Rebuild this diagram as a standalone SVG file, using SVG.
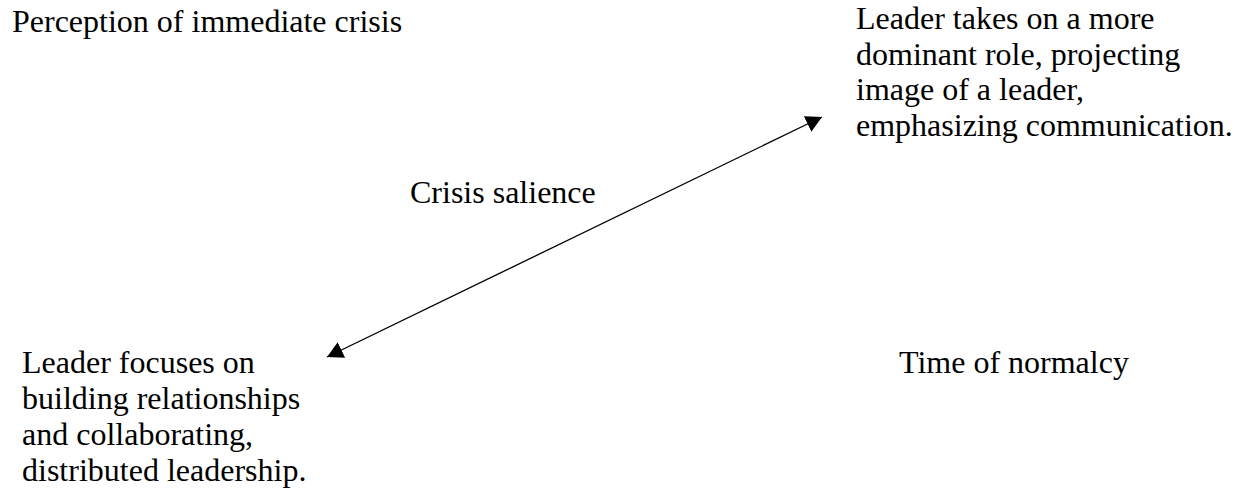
<svg xmlns="http://www.w3.org/2000/svg" width="1236" height="490" viewBox="0 0 1236 490">
<style>
text{font-family:"Liberation Serif","Times New Roman",serif;font-size:32px;fill:#000}
.conn{stroke:#000;stroke-width:1.3;fill:none}
</style>
<defs>
<marker id="tri" viewBox="0 0 16 17" refX="16" refY="8.5" markerWidth="16" markerHeight="17" markerUnits="userSpaceOnUse" orient="auto-start-reverse">
<path d="M0,0 L16,8.5 L0,17 Z" fill="#000"/>
</marker>
</defs>
<rect width="1236" height="490" fill="#fff"/>
<g id="connectors">
<line class="conn" x1="327" y1="357" x2="822" y2="117" marker-start="url(#tri)" marker-end="url(#tri)"/>
</g>
<g id="perception"><text x="12" y="32">Perception of immediate crisis</text></g>
<g id="dominant"><text x="856" y="29">Leader takes on a more</text><text x="856" y="64.5">dominant role, projecting</text><text x="856" y="100">image of a leader,</text><text x="856" y="135.5">emphasizing communication.</text></g>
<g id="salience"><text x="410" y="203">Crisis salience</text></g>
<g id="relationships"><text x="22" y="373">Leader focuses on</text><text x="22" y="409">building relationships</text><text x="22" y="445">and collaborating,</text><text x="22" y="481">distributed leadership.</text></g>
<g id="normalcy"><text x="899" y="373">Time of normalcy</text></g>
</svg>
